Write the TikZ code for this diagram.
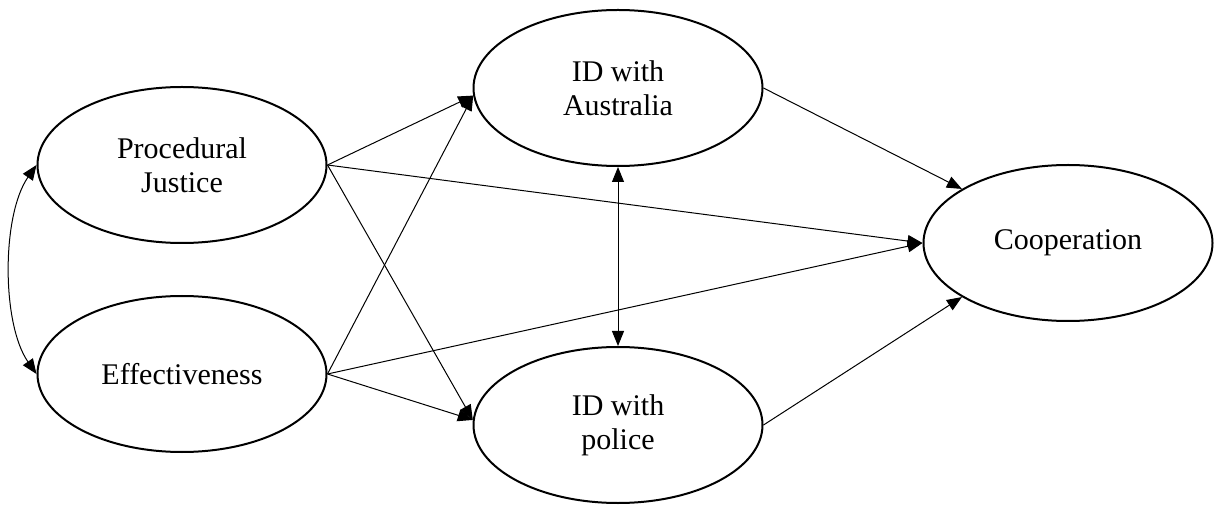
\documentclass[tikz,border=0pt]{standalone}
\usepackage{fontspec}
\setmainfont{Liberation Serif}
\usetikzlibrary{shapes.geometric,arrows.meta}
\tikzset{
  latent/.style={ellipse,draw,line width=1pt,minimum width=144.5pt,minimum height=78pt,inner sep=0pt,align=center,font=\fontsize{15}{17}\selectfont},
  path/.style={line width=0.5pt,-{Triangle[length=7.5pt,width=6pt]}},
  cov/.style={line width=0.5pt,{Triangle[length=7.5pt,width=6pt]}-{Triangle[length=7.5pt,width=6pt]}}
}
\begin{document}
\begin{tikzpicture}[x=0.5pt,y=-0.5pt]
\useasboundingbox (0,0) rectangle (1214,507);
\node[latent] (PJ) at (182,165) {Procedural\\Justice};
\node[latent] (EF) at (182,374) {Effectiveness};
\node[latent] (IDA) at (618,88) {ID with\\Australia};
\node[latent] (IDP) at (618,425) {ID with\\police};
\node[latent] (CO) at (1068,243) {Cooperation};
\draw[path] (PJ.east) -- (IDA.183);
\draw[path] (PJ.east) -- (CO.west);
\draw[path] (PJ.east) -- (IDP.178);
\draw[path] (EF.east) -- (IDA.183);
\draw[path] (EF.east) -- (CO.west);
\draw[path] (EF.east) -- (IDP.178);
\draw[path] (IDA.east) -- (CO.153);
\draw[path] (IDP.east) -- (CO.207);
\draw[cov] (IDA.south) -- (IDP.north);
\draw[cov] (PJ.west) .. controls +(-35,50) and +(-35,-50) .. (EF.west);
\end{tikzpicture}
\end{document}
